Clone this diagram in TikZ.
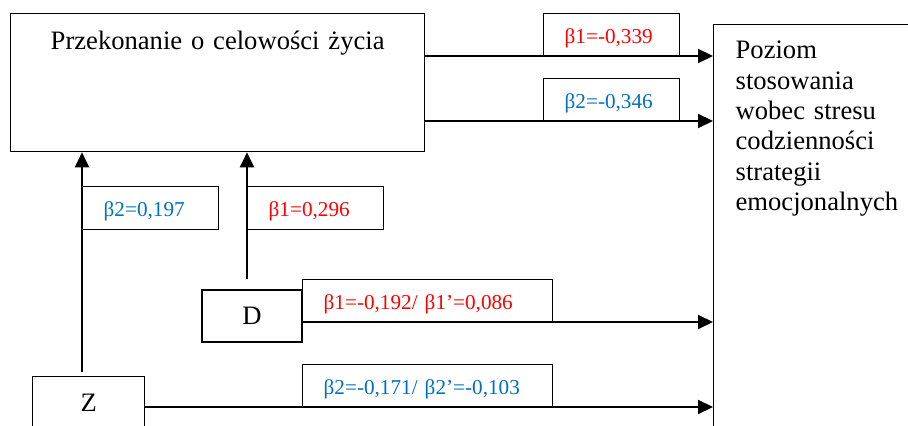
\documentclass[tikz,border=0pt]{standalone}
\usepackage{fontspec}
\setmainfont{Liberation Serif}
\usetikzlibrary{arrows.meta,calc}
\definecolor{betared}{HTML}{FF0000}
\definecolor{betablue}{HTML}{0070C0}
\begin{document}
\begin{tikzpicture}[x=0.5pt,y=-0.5pt,
  box/.style={draw,line width=0.65pt,inner sep=0pt},
  lbl/.style={box,anchor=north west,inner xsep=10.5pt,inner ysep=0pt,align=left,
    text width=#1,text height=15pt,text depth=6.5pt,font=\fontsize{10.6}{12}\selectfont},
  conn/.style={line width=1pt,-{Triangle[length=7.5pt,width=7pt]}},
  bigtext/.style={font=\fontsize{13.3}{15.2}\selectfont}]
\useasboundingbox (0,0) rectangle (908,426);

% main boxes
\node[box,bigtext,anchor=north west,text width=207pt,align=center,
  text height=17.75pt,text depth=51.25pt] (P) at (10,13) {Przekonanie o celowości życia};
\node[box,bigtext,anchor=north west,text width=90pt,align=left,inner xsep=11pt,
  text height=17pt,text depth=200pt] (R) at (713,24)
  {Poziom\\stosowania\\wobec stresu\\codzienności\\strategii\\emocjonalnych};
\node[box,bigtext,minimum width=50pt,minimum height=26pt] (D) at (252,316) {D};
\node[box,bigtext,anchor=north west,minimum width=56pt,
  text height=17.5pt,text depth=14.5pt] (Z) at (32,376) {Z};

% coefficient labels
\node[lbl=47pt,text=betared]  (L1) at (543,13)  {β1=-0,339};
\node[lbl=47pt,text=betablue] (L2) at (543,78)  {β2=-0,346};
\node[lbl=47pt,text=betablue] (L3) at (82,186)  {β2=0,197};
\node[lbl=47pt,text=betared]  (L4) at (247,186) {β1=0,296};
\node[lbl=104pt,text=betared]  (L5) at (302,279) {β1=-0,192/ β1’=0,086};
\node[lbl=104pt,text=betablue] (L6) at (302,364) {β2=-0,171/ β2’=-0,103};

% guide coordinates for connector lines
\coordinate (yA) at (0,56);
\coordinate (yB) at (0,121);
\coordinate (yD) at (0,322);
\coordinate (yZ) at (0,407);
\coordinate (xZ) at (82,0);
\coordinate (xD) at (247,0);

% connectors
\draw[conn] (P.east |- yA) -- (R.west |- yA);
\draw[conn] (P.east |- yB) -- (R.west |- yB);
\draw[conn,shorten <=2pt] (xZ |- Z.north) -- (xZ |- P.south);
\draw[conn,shorten <=5pt] (xD |- D.north) -- (xD |- P.south);
\draw[conn] (D.east |- yD) -- (R.west |- yD);
\draw[conn] (Z.east |- yZ) -- (R.west |- yZ);
\end{tikzpicture}
\end{document}
